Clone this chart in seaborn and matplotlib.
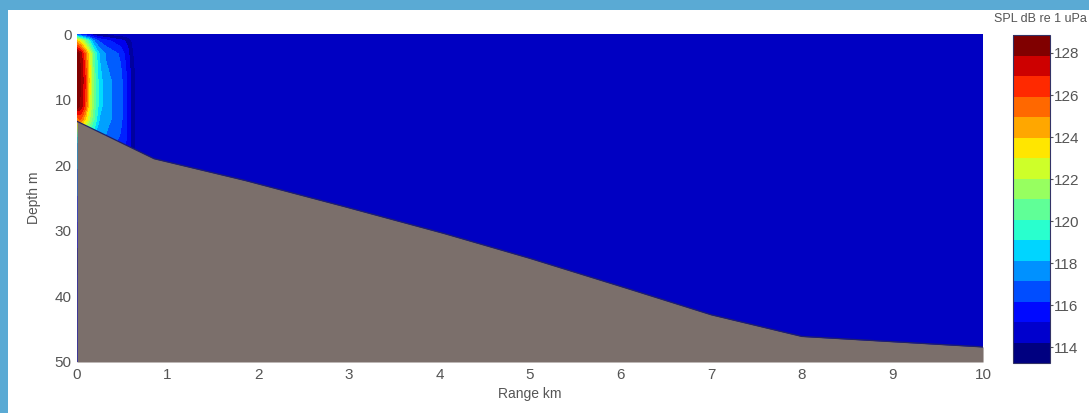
import numpy as np
import matplotlib
matplotlib.use("Agg")
import matplotlib.pyplot as plt
from matplotlib.colors import BoundaryNorm
import seaborn as sns

# sound field samples (SPL, dB re 1 uPa) on a range x depth grid
range_km = [0.0, 0.04, 0.09, 0.14, 0.19, 0.25, 0.32, 0.4, 0.48, 0.56, 0.65, 0.8, 10.0]
depth_m = [0, 1, 3, 7, 11, 13, 16, 50]
spl_d0 = [116, 115, 114.5, 114, 113.5, 113, 113, 112.5, 112.5, 112, 111, 110, 100]
spl_d1 = [124, 123, 121, 119, 117, 116, 115.5, 115, 114.5, 114, 112, 110, 100]
spl_d3 = [129.5, 128.5, 126, 123, 120, 118, 117, 116.5, 116, 114.5, 112.5, 110, 100]
spl_d7 = [130, 129, 127, 123.5, 120.5, 118.5, 117.5, 117, 116.5, 115, 113, 110, 100]
spl_d11 = [129.5, 128.5, 126.5, 123, 120.5, 118.5, 117.5, 117, 116.5, 115, 113, 110, 100]
spl_d13 = [125, 126, 124, 122, 120, 118, 117.5, 117, 116.5, 115, 113, 110, 100]
spl_d16 = [118, 119, 119, 118.5, 118, 117.5, 117, 116.5, 116, 115, 113, 110, 100]
spl_d50 = [110, 110, 110, 110, 110, 110, 110, 110, 110, 110, 108, 106, 100]

# seabed profile
bathy_range = [0, 0.85, 1.85, 2.95, 4.05, 5.0, 6.1, 7.0, 8.0, 10]
bathy_depth = [13.3, 19.0, 22.3, 26.3, 30.4, 34.2, 38.9, 42.8, 46.1, 47.7]

cbar_ticks = [114, 116, 118, 120, 122, 124, 126, 128]

spl = np.array([spl_d0, spl_d1, spl_d3, spl_d7, spl_d11, spl_d13, spl_d16, spl_d50])

sns.set_style("white")
plt.rcParams['font.family'] = ['Liberation Sans', 'DejaVu Sans']

fig = plt.figure(figsize=(10.89, 4.13), dpi=100)
fig.patch.set_facecolor('#5aaad4')
panel = plt.Rectangle((8 / 1089, 0), 1, 1 - 10 / 413, transform=fig.transFigure,
                      facecolor='white', edgecolor='none', zorder=-5)
fig.patches.append(panel)

ax = fig.add_axes([0.0707, 0.1235, 0.832, 0.794])
cax = fig.add_axes([0.930, 0.121, 0.034, 0.794])

cmap = plt.get_cmap('jet').copy()
cmap.set_under('#0000c2')
levels = np.linspace(113.25, 128.85, 17)
cf = ax.contourf(range_km, depth_m, spl, levels=levels, cmap=cmap, extend='both')

ax.fill_between(bathy_range, bathy_depth, 50, color='#7b6f6b', lw=0, zorder=3)
sns.lineplot(x=bathy_range, y=bathy_depth, ax=ax, color='#20206a', lw=0.9, zorder=4)

ax.set_xlim(0, 10)
ax.set_ylim(50, 0)
ax.set_xticks(range(0, 11))
ax.set_yticks([0, 10, 20, 30, 40, 50])
ax.tick_params(length=0, labelsize=11, colors='#555555', pad=4)
ax.set_xlabel('Range km', fontsize=10, color='#555555', labelpad=4)
ax.set_ylabel('Depth m', fontsize=10, color='#555555', labelpad=10)
for s in ax.spines.values():
    s.set_visible(False)

norm = BoundaryNorm(levels, cmap.N)
sm = plt.cm.ScalarMappable(norm=norm, cmap=cmap)
cb = fig.colorbar(sm, cax=cax, ticks=cbar_ticks)
cb.ax.minorticks_off()
cb.ax.tick_params(length=2, labelsize=11, colors='#555555', pad=1)
cb.outline.set_edgecolor('#333366')
cb.outline.set_linewidth(0.8)
fig.text(1087 / 1089, 1 - 19 / 413, 'SPL dB re 1 uPa', fontsize=9, color='#555555',
         va='center', ha='right')

fig.savefig('out.png', dpi=100, facecolor=fig.get_facecolor())
